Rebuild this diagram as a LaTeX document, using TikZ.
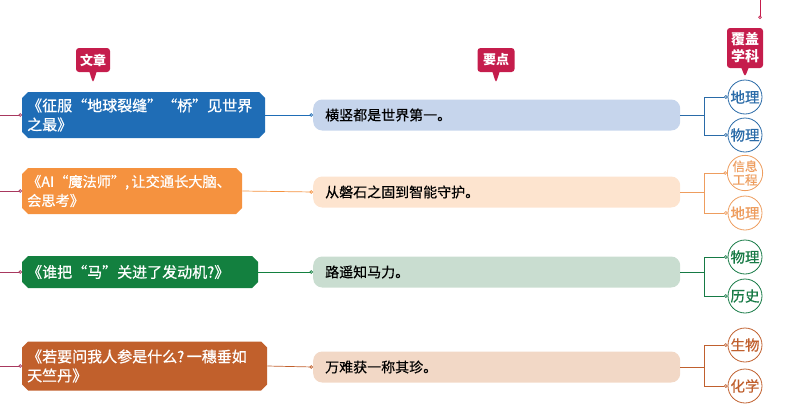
\documentclass[tikz,border=0pt]{standalone}
\usepackage{fontspec}
\setmainfont{Noto Sans CJK SC}
\newfontfamily\heavyfont[FakeBold=0.8]{Noto Sans CJK SC}
\newfontfamily\midfont[FakeBold=0.4]{Noto Sans CJK SC}
\usetikzlibrary{arrows.meta, shapes.misc, shapes.callouts}
\definecolor{TagRed}{HTML}{C51D4C}
\definecolor{StubRed}{HTML}{A8385E}
\definecolor{ArtBlue}{HTML}{1F6DB6}
\definecolor{ArtOrange}{HTML}{F5923F}
\definecolor{ArtGreen}{HTML}{13803F}
\definecolor{ArtBrown}{HTML}{C1602C}
\definecolor{PtBlue}{HTML}{C6D5EC}
\definecolor{PtOrange}{HTML}{FDE4CF}
\definecolor{PtGreen}{HTML}{C9DDD0}
\definecolor{PtBrown}{HTML}{F2D8C6}
\definecolor{SubBlue}{HTML}{2A6BA8}
\definecolor{SubOrange}{HTML}{EE9D5E}
\definecolor{SubGreen}{HTML}{167A45}
\definecolor{SubBrown}{HTML}{C0602E}

\begin{document}
\begin{tikzpicture}[x=1pt, y=-1pt,
  >={Circle[open, length=3.5pt, width=3.5pt]},
  article/.style={chamfered rectangle, chamfered rectangle xsep=3pt,
    chamfered rectangle ysep=3pt, fill=#1, text=white, anchor=west,
    align=left, inner xsep=2pt, inner ysep=2pt,
    font=\heavyfont\fontsize{15}{19}\selectfont},
  point/.style={rounded corners=9pt, fill=#1, anchor=west,
    minimum width=367pt, minimum height=31pt, text width=343pt,
    inner xsep=12pt, align=left, font=\midfont\fontsize{14}{16}\selectfont},
  subject/.style={circle, draw=#1, text=#1, fill=white, line width=0.8pt,
    minimum size=34pt, inner sep=0pt, align=center,
    font=\midfont\fontsize{14.5}{15}\selectfont},
  tag/.style={rectangle callout, fill=TagRed, text=white, rounded corners=3pt,
    inner xsep=4pt, inner ysep=3pt, align=center,
    font=\bfseries\fontsize{13}{16}\selectfont},
  link/.style={->, draw=#1, line width=0.7pt}]
  \useasboundingbox (0,0) rectangle (800,410);

  % Column tags
  \node[tag, minimum width=34pt, minimum height=24pt,
    callout absolute pointer={(93,83)}] (tagArt) at (93,60) {文章};
  \node[tag, minimum width=37pt, minimum height=24pt,
    callout absolute pointer={(496,83)}] (tagPt) at (496,60) {要点};
  \node[tag, minimum width=36pt, minimum height=40pt,
    font=\bfseries\fontsize{14}{17}\selectfont,
    callout absolute pointer={(745,77)}] (tagSub) at (745,48) {覆盖\\学科};
  \coordinate (topStub) at (760,0);
  \draw[link=TagRed] (topStub) -- (760,19);

  % Articles
  \node[article=ArtBlue, text width=233pt, minimum height=46pt] (art1) at (22,115)
    {《征服“地球裂缝”“桥”见世界\\之最》};
  \node[article=ArtOrange, text width=210pt, minimum height=46pt,
    font=\heavyfont\fontsize{14.2}{19}\selectfont] (art2) at (22,191)
    {《AI“魔法师”,\,让交通长大脑、\\会思考》};
  \node[article=ArtGreen, text width=226pt, minimum height=32pt] (art3) at (22,272)
    {《谁把“马”关进了发动机?》};
  \node[article=ArtBrown, text width=235pt, minimum height=49pt] (art4) at (22,366)
    {《若要问我人参是什么?\,一穗垂如\\天竺丹》};

  % Key points
  \node[point=PtBlue] (pt1) at (313,115) {横竖都是世界第一。};
  \node[point=PtOrange] (pt2) at (313,192) {从磐石之固到智能守护。};
  \node[point=PtGreen] (pt3) at (313,272) {路遥知马力。};
  \node[point=PtBrown] (pt4) at (313,367) {万难获一称其珍。};

  % Subjects
  \node[subject=SubBlue] (sub1a) at (745,97) {地理};
  \node[subject=SubBlue] (sub1b) at (745,135) {物理};
  \node[subject=SubOrange, font=\midfont\fontsize{12.5}{13.5}\selectfont]
    (sub2a) at (745,173) {信息\\工程};
  \node[subject=SubOrange] (sub2b) at (745,213) {地理};
  \node[subject=SubGreen] (sub3a) at (745,257) {物理};
  \node[subject=SubGreen] (sub3b) at (745,296) {历史};
  \node[subject=SubBrown] (sub4a) at (745,345) {生物};
  \node[subject=SubBrown] (sub4b) at (745,386) {化学};

  % Connectors
  \foreach \i/\col in {1/ArtBlue, 2/ArtOrange, 3/ArtGreen, 4/ArtBrown} {
    \coordinate (stub\i) at (0,0 |- art\i.west);
    \draw[link=StubRed] (stub\i) -- (art\i.west);
    \draw[link=\col] (art\i.east) -- (pt\i.west);
  }
  \foreach \i/\col in {1/SubBlue, 2/SubOrange, 3/SubGreen, 4/SubBrown} {
    \coordinate (fork\i) at (704,0 |- pt\i.east);
    \draw[draw=\col, line width=0.7pt] (pt\i.east) -- (fork\i);
    \draw[link=\col] (fork\i) |- (sub\i a.west);
    \draw[link=\col] (fork\i) |- (sub\i b.west);
  }
\end{tikzpicture}
\end{document}
